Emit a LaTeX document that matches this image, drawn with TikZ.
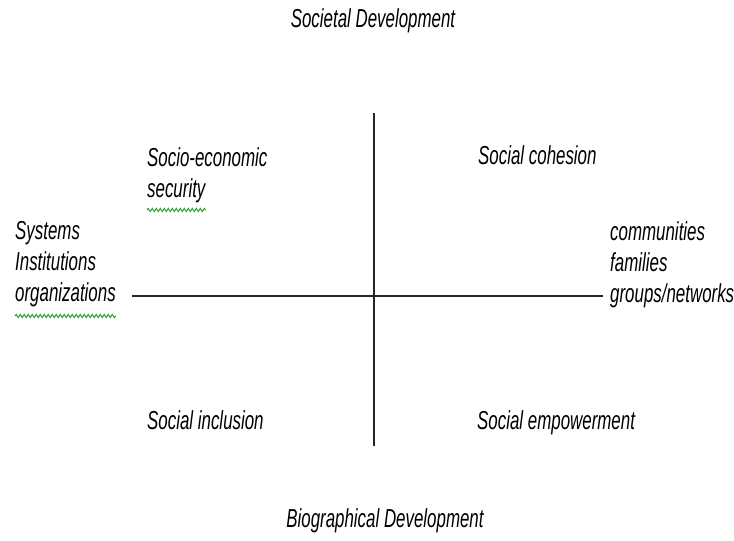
\documentclass[tikz,border=0pt]{standalone}
\usepackage{fontspec}
\usepackage{tikz}
\usetikzlibrary{decorations.pathmorphing}
\newfontfamily\labelfont{Liberation Sans}[FakeStretch=0.65]
\definecolor{spellgreen}{RGB}{40,160,40}
\tikzset{
    axislabel/.style={font=\labelfont\itshape\fontsize{26}{31}\selectfont, inner sep=0pt, anchor=base west},
    titlelabel/.style={axislabel, anchor=base},
    axisline/.style={line width=1.8pt, black!85},
    squiggle/.style={draw=spellgreen, line width=1pt, decorate,
        decoration={snake, amplitude=1.6pt, segment length=4pt}}
}
\begin{document}
\begin{tikzpicture}[x=1pt, y=-1pt]
    \useasboundingbox (0,0) rectangle (734,541);

    % the two axes
    \coordinate (vtop) at (374,113);
    \coordinate (vbot) at (374,446);
    \coordinate (hleft) at (132,296);
    \coordinate (hright) at (603,296);
    \draw[axisline, line width=1.5pt] (vtop) -- (vbot);
    \draw[axisline] (hleft) -- (hright);

    % ends of the vertical axis
    \node[titlelabel] (societal) at (373,27) {Societal Development};
    \node[titlelabel] (biographical) at (385,527) {Biographical Development};

    % ends of the horizontal axis
    \node[axislabel] (sys) at (15,239) {Systems};
    \node[axislabel] (inst) at (15,270) {Institutions};
    \node[axislabel] (org) at (15,301) {organizations};
    \node[axislabel] (comm) at (610,240) {communities};
    \node[axislabel] (fam) at (610,271) {families};
    \node[axislabel] (groups) at (610,302) {groups/networks};

    % quadrants
    \node[axislabel] (socio) at (147,166) {Socio-economic};
    \node[axislabel] (secur) at (147,197) {security};
    \node[axislabel] (cohesion) at (478,164) {Social cohesion};
    \node[axislabel] (inclusion) at (147,429) {Social inclusion};
    \node[axislabel] (empower) at (477,429) {Social empowerment};

    % spell-check marks
    \draw[squiggle] ([yshift=-13pt]secur.base west) -- ([yshift=-13pt]secur.base east);
    \draw[squiggle] ([yshift=-15pt]org.base west) -- ([yshift=-15pt]org.base east);
\end{tikzpicture}
\end{document}
